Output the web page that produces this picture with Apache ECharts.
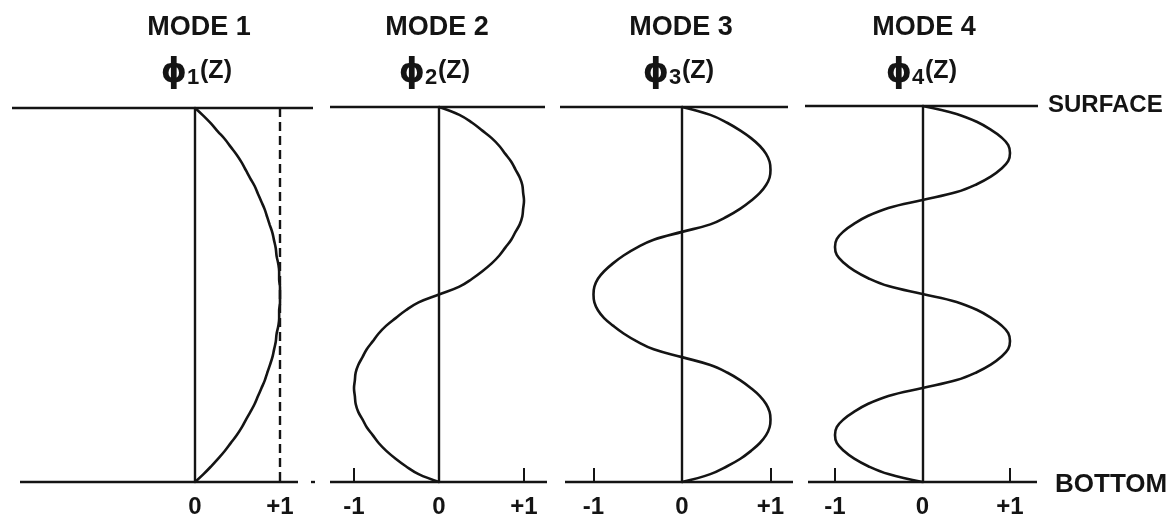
<!DOCTYPE html>
<html>
<head>
<meta charset="utf-8">
<style>
  html, body { margin: 0; padding: 0; background: #ffffff; }
  #chart { width: 1173px; height: 519px; }
</style>
<script src="https://cdn.jsdelivr.net/npm/echarts@6/dist/echarts.min.js"></script>
</head>
<body>
<div id="chart"></div>
<script>
// Normalised depth below the surface (0 = surface, 1 = bottom), 48 equal steps
const depth = [0, 0.021, 0.042, 0.063, 0.083, 0.104, 0.125, 0.146, 0.167, 0.188, 0.208, 0.229,
               0.25, 0.271, 0.292, 0.313, 0.333, 0.354, 0.375, 0.396, 0.417, 0.438, 0.458, 0.479,
               0.5, 0.521, 0.542, 0.563, 0.583, 0.604, 0.625, 0.646, 0.667, 0.688, 0.708, 0.729,
               0.75, 0.771, 0.792, 0.813, 0.833, 0.854, 0.875, 0.896, 0.917, 0.938, 0.958, 0.979, 1];

// Vertical mode amplitudes phi_n(z) at each depth
const mode1 = [0, 0.10, 0.19, 0.27, 0.35, 0.42, 0.49, 0.55, 0.60, 0.65, 0.70, 0.74,
               0.78, 0.82, 0.85, 0.88, 0.91, 0.93, 0.95, 0.96, 0.98, 0.99, 0.99, 1.00,
               1.00, 1.00, 0.99, 0.99, 0.98, 0.96, 0.95, 0.93, 0.91, 0.88, 0.85, 0.82,
               0.78, 0.74, 0.70, 0.65, 0.60, 0.55, 0.49, 0.42, 0.35, 0.27, 0.19, 0.10, 0];
const mode2 = [0, 0.24, 0.39, 0.51, 0.62, 0.71, 0.78, 0.85, 0.90, 0.95, 0.98, 0.99,
               1.00, 0.99, 0.98, 0.95, 0.90, 0.85, 0.78, 0.71, 0.62, 0.51, 0.39, 0.24,
               0, -0.24, -0.39, -0.51, -0.62, -0.71, -0.78, -0.85, -0.90, -0.95, -0.98, -0.99,
               -1.00, -0.99, -0.98, -0.95, -0.90, -0.85, -0.78, -0.71, -0.62, -0.51, -0.39, -0.24, 0];
const mode3 = [0, 0.32, 0.51, 0.66, 0.78, 0.88, 0.95, 0.99, 1.00, 0.99, 0.95, 0.88,
               0.78, 0.66, 0.51, 0.32, 0, -0.32, -0.51, -0.66, -0.78, -0.88, -0.95, -0.99,
               -1.00, -0.99, -0.95, -0.88, -0.78, -0.66, -0.51, -0.32, 0, 0.32, 0.51, 0.66,
               0.78, 0.88, 0.95, 0.99, 1.00, 0.99, 0.95, 0.88, 0.78, 0.66, 0.51, 0.32, 0];
const mode4 = [0, 0.39, 0.62, 0.78, 0.90, 0.98, 1.00, 0.98, 0.90, 0.78, 0.62, 0.39,
               0, -0.39, -0.62, -0.78, -0.90, -0.98, -1.00, -0.98, -0.90, -0.78, -0.62, -0.39,
               0, 0.39, 0.62, 0.78, 0.90, 0.98, 1.00, 0.98, 0.90, 0.78, 0.62, 0.39,
               0, -0.39, -0.62, -0.78, -0.90, -0.98, -1.00, -0.98, -0.90, -0.78, -0.62, -0.39, 0];

const modes = [mode1, mode2, mode3, mode4];
const modeTitles = ['MODE 1', 'MODE 2', 'MODE 3', 'MODE 4'];
const modeIndex = ['1', '2', '3', '4'];
const tickValues = [[0, 1], [-1, 0, 1], [-1, 0, 1], [-1, 0, 1]];
const upperLabel = 'SURFACE';
const lowerLabel = 'BOTTOM';

// Panel geometry in pixels: left/right edge, top/bottom edge, x of zero, pixels per unit,
// extents of the surface and bottom rules, and the title centre.
const layout = [
  { left: 12,  right: 316,  yTop: 108, yBot: 489, zero: 195,   unit: 85,   top: [12, 313],   bot: [[20, 298], [311, 315]], cx: 199 },
  { left: 330, right: 547,  yTop: 107, yBot: 487, zero: 439,   unit: 85,   top: [330, 545],  bot: [[330, 547]], cx: 437 },
  { left: 560, right: 793,  yTop: 107, yBot: 486, zero: 682,   unit: 88.5, top: [560, 788],  bot: [[565, 793]], cx: 681 },
  { left: 805, right: 1038, yTop: 106, yBot: 484, zero: 922.5, unit: 87.5, top: [805, 1038], bot: [[808, 1037]], cx: 924 }
];

const INK = '#141414';
const FONT = '"Liberation Sans", "DejaVu Sans", sans-serif';

const grids = [], xAxes = [], yAxes = [], series = [], graphics = [];

layout.forEach((p, i) => {
  const toVal = px => (px - p.zero) / p.unit;
  grids.push({ left: p.left, top: p.yTop, width: p.right - p.left, height: p.yBot - p.yTop });
  xAxes.push({
    type: 'value', gridIndex: i, position: 'bottom',
    min: toVal(p.left), max: toVal(p.right),
    splitLine: { show: false },
    axisLine: { show: false, onZero: false },
    axisTick: {
      show: true, inside: true, length: 14,
      customValues: tickValues[i].filter(v => v !== 0 && !(i === 0 && v === 1)),
      lineStyle: { color: INK, width: 2 }
    },
    axisLabel: {
      customValues: tickValues[i], margin: 13,
      color: INK, fontFamily: FONT, fontWeight: 'bold', fontSize: 24,
      formatter: v => (v > 0 ? '+' + v : String(v))
    }
  });
  yAxes.push({
    type: 'value', gridIndex: i, min: 0, max: 1, inverse: true,
    axisLine: { show: true, onZero: true, lineStyle: { color: INK, width: 2.4 } },
    axisTick: { show: false }, axisLabel: { show: false }, splitLine: { show: false }
  });

  const rules = [[{ coord: [toVal(p.top[0]), 0] }, { coord: [toVal(p.top[1]), 0] }]];
  p.bot.forEach(b => rules.push([{ coord: [toVal(b[0]), 1] }, { coord: [toVal(b[1]), 1] }]));
  series.push({
    type: 'line', xAxisIndex: i, yAxisIndex: i,
    data: depth.map((z, k) => [modes[i][k], z]),
    smooth: 0.4, showSymbol: false, clip: false,
    lineStyle: { color: INK, width: 2.6 },
    silent: true, animation: false,
    markLine: {
      silent: true, symbol: 'none', animation: false,
      label: { show: false },
      lineStyle: { color: INK, width: 2.4, type: 'solid' },
      data: rules
    }
  });

  // Title block above each panel
  const cx = p.cx;
  graphics.push(
    { type: 'text', x: cx, y: 28, style: { text: modeTitles[i], fill: INK, font: 'bold 27px ' + FONT, align: 'center', verticalAlign: 'middle' } },
    { type: 'text', x: cx - 25, y: 73, style: { text: '\u03D5', fill: INK, font: 'bold 33px "DejaVu Sans", sans-serif', align: 'center', verticalAlign: 'middle' } },
    { type: 'text', x: cx - 6, y: 78, style: { text: modeIndex[i], fill: INK, font: 'bold 22px ' + FONT, align: 'center', verticalAlign: 'middle' } },
    { type: 'text', x: cx + 17, y: 71, style: { text: '(Z)', fill: INK, font: 'bold 25px ' + FONT, align: 'center', verticalAlign: 'middle' } }
  );
});

// Dashed reference at +1 for the first mode
series.push({
  type: 'line', xAxisIndex: 0, yAxisIndex: 0, data: [], silent: true, animation: false,
  markLine: {
    silent: true, symbol: 'none', animation: false, label: { show: false },
    lineStyle: { color: INK, width: 2.4, type: [9, 5] },
    data: [{ xAxis: 1 }]
  }
});

graphics.push(
  { type: 'text', x: 1048, y: 105, style: { text: upperLabel, fill: INK, font: 'bold 24px ' + FONT, align: 'left', verticalAlign: 'middle' } },
  { type: 'text', x: 1055, y: 485, style: { text: lowerLabel, fill: INK, font: 'bold 26px ' + FONT, align: 'left', verticalAlign: 'middle' } }
);

const chart = echarts.init(document.getElementById('chart'), null, { renderer: 'canvas' });
chart.setOption({
  backgroundColor: '#ffffff',
  animation: false,
  grid: grids,
  xAxis: xAxes,
  yAxis: yAxes,
  series: series,
  graphic: graphics
});
</script>
</body>
</html>
